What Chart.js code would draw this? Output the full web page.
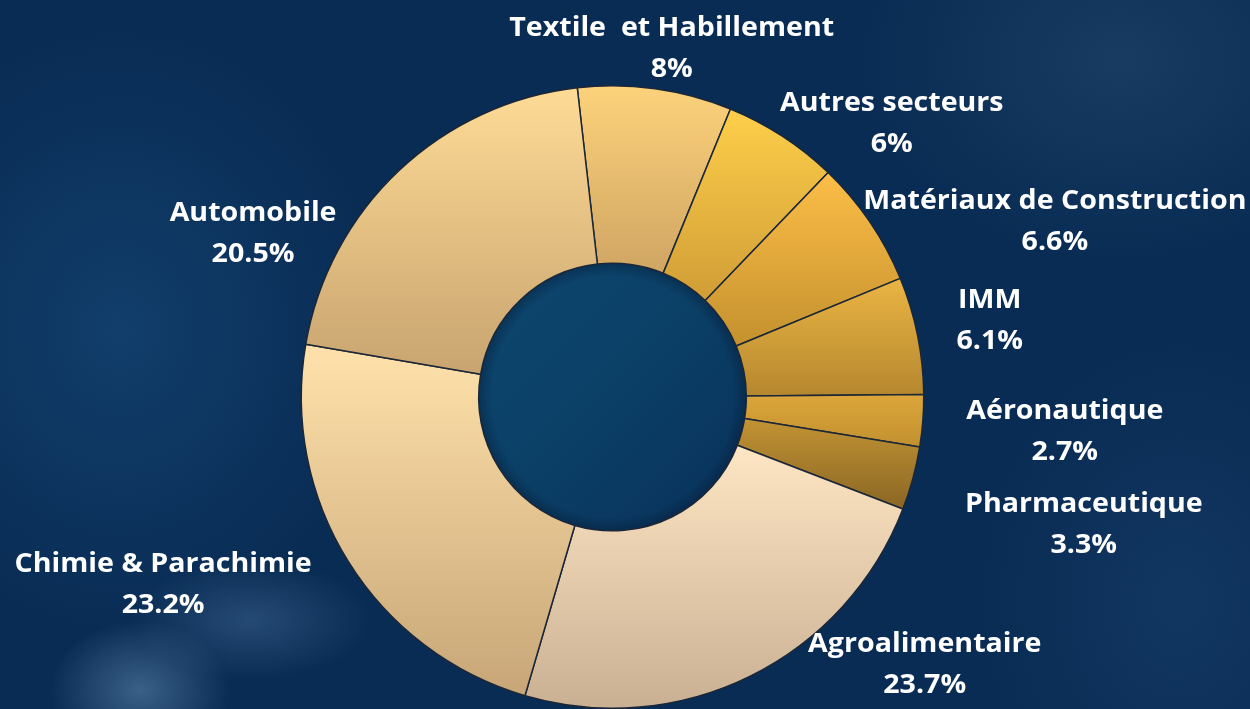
<!DOCTYPE html>
<html lang="fr">
<head>
<meta charset="utf-8">
<title>Répartition par secteur</title>
<script src="https://cdn.jsdelivr.net/npm/chart.js@4.4.1/dist/chart.umd.min.js"></script>
<style>
  html, body { margin: 0; padding: 0; }
  body {
    width: 1250px; height: 709px; overflow: hidden;
    background:
      radial-gradient(ellipse 90px 70px at 140px 690px, rgba(120,160,200,0.45), rgba(120,160,200,0) 100%),
      radial-gradient(ellipse 120px 60px at 250px 620px, rgba(90,130,175,0.35), rgba(90,130,175,0) 100%),
      radial-gradient(ellipse 260px 300px at 120px 330px, rgba(25,80,130,0.5), rgba(25,80,130,0) 100%),
      radial-gradient(ellipse 260px 200px at 1120px 60px, rgba(60,95,130,0.3), rgba(60,95,130,0) 100%),
      radial-gradient(ellipse 200px 260px at 1180px 600px, rgba(30,70,115,0.4), rgba(30,70,115,0) 100%),
      #092c54;
  }
  #wrap { position: relative; width: 1250px; height: 709px; }
</style>
</head>
<body>
<div id="wrap"><canvas id="myChart"></canvas></div>
<script>
'use strict';

// data (percent)
let sectors = ['Textile  et Habillement', 'Autres secteurs', 'Matériaux de Construction', 'IMM',
  'Aéronautique', 'Pharmaceutique', 'Agroalimentaire', 'Chimie & Parachimie', 'Automobile'];
let shares = [8, 6, 6.6, 6.1, 2.7, 3.3, 23.7, 23.2, 20.5];
let shareLabels = ['8%', '6%', '6.6%', '6.1%', '2.7%', '3.3%', '23.7%', '23.2%', '20.5%'];

// slice colours, top -> bottom of each slice
let topColors = ['#fdd27b', '#fecf4a', '#fdbe47', '#ebb544', '#dca63a', '#c39434', '#fee5c3', '#ffe2ab', '#fedb95'];
let bottomColors = ['#cfa563', '#d09d36', '#c4912e', '#b5872e', '#c1902f', '#8a6624', '#c9b093', '#c7a577', '#c8a470'];

// where each label block sits, relative to the centre, in outer radii
let labelOffsets = [
  [0.187, -1.122], [0.894, -0.881], [1.418, -0.566], [1.209, -0.248],
  [1.45, 0.109], [1.511, 0.408], [1.0, 0.855], [-1.447, 0.601], [-1.158, -0.527]
];

const ROTATION = -6.5;
const CUTOUT = 0.43;

// vertical gradient over each slice's own extent
function sliceFill(context) {
  let chart = context.chart;
  let area = chart.chartArea;
  let i = context.dataIndex;
  if (!area) return topColors[i];
  let cx = (area.left + area.right) / 2;
  let cy = (area.top + area.bottom) / 2;
  let R = Math.min(area.width, area.height) / 2;
  let r = R * CUTOUT;
  let total = shares.reduce((a, b) => a + b, 0);
  let before = 0;
  for (let k = 0; k < i; k++) before += shares[k];
  let a0 = (ROTATION - 90) * Math.PI / 180 + before / total * Math.PI * 2;
  let a1 = a0 + shares[i] / total * Math.PI * 2;
  let yMin = Infinity, yMax = -Infinity;
  for (let s = 0; s <= 40; s++) {
    let a = a0 + (a1 - a0) * s / 40;
    [r, R].forEach(function(rad) {
      let y = cy + Math.sin(a) * rad;
      if (y < yMin) yMin = y;
      if (y > yMax) yMax = y;
    });
  }
  let g = chart.ctx.createLinearGradient(0, yMin, 0, yMax);
  g.addColorStop(0, topColors[i]);
  g.addColorStop(1, bottomColors[i]);
  return g;
}

// fills the hole with the darker blue disc
const holePlugin = {
  id: 'hole',
  beforeDatasetsDraw(chart) {
    let arc = chart.getDatasetMeta(0).data[0];
    if (!arc) return;
    let ctx = chart.ctx;
    let x = arc.x, y = arc.y, r = arc.innerRadius;
    let g = ctx.createLinearGradient(x - r, y - r, x + r, y + r);
    g.addColorStop(0, '#0d4770');
    g.addColorStop(0.5, '#0b3f66');
    g.addColorStop(1, '#08305a');
    ctx.save();
    ctx.beginPath();
    ctx.arc(x, y, r, 0, Math.PI * 2);
    ctx.fillStyle = g;
    ctx.fill();
    // soft dark rim
    let rim = ctx.createRadialGradient(x, y, r * 0.9, x, y, r);
    rim.addColorStop(0, 'rgba(5,25,50,0)');
    rim.addColorStop(1, 'rgba(5,25,50,0.4)');
    ctx.fillStyle = rim;
    ctx.fill();
    ctx.restore();
  }
};

// two line labels outside the ring (text a bit wider than the font, like the original)
const labelPlugin = {
  id: 'outLabels',
  afterDatasetsDraw(chart) {
    let arc = chart.getDatasetMeta(0).data[0];
    if (!arc) return;
    let ctx = chart.ctx;
    let R = arc.outerRadius;
    for (let i = 0; i < sectors.length; i++) {
      let lx = arc.x + labelOffsets[i][0] * R + 1;
      let ly = arc.y + labelOffsets[i][1] * R;
      ctx.save();
      ctx.translate(lx, ly);
      ctx.scale(1.1, 1);
      ctx.fillStyle = '#ffffff';
      ctx.font = 'bold 26px "Open Sans"';
      ctx.textAlign = 'center';
      ctx.textBaseline = 'middle';
      ctx.fillText(sectors[i], 0, -19);
      ctx.fillText(shareLabels[i], 0, 22);
      ctx.restore();
    }
  }
};

let ctx = document.getElementById('myChart').getContext('2d');
let myChart = new Chart(ctx, {
  type: 'doughnut',
  data: {
    labels: sectors,
    datasets: [{
      data: shares,
      backgroundColor: sliceFill,
      borderColor: '#1b2738',
      borderWidth: 1.5
    }]
  },
  options: {
    responsive: true,
    maintainAspectRatio: false,
    animation: false,
    rotation: ROTATION,
    cutout: (CUTOUT * 100) + '%',
    layout: { padding: { left: 300, right: 325, top: 85, bottom: 0 } },
    plugins: {
      legend: { display: false },
      tooltip: { enabled: false }
    }
  },
  plugins: [holePlugin, labelPlugin]
});
</script>
</body>
</html>
